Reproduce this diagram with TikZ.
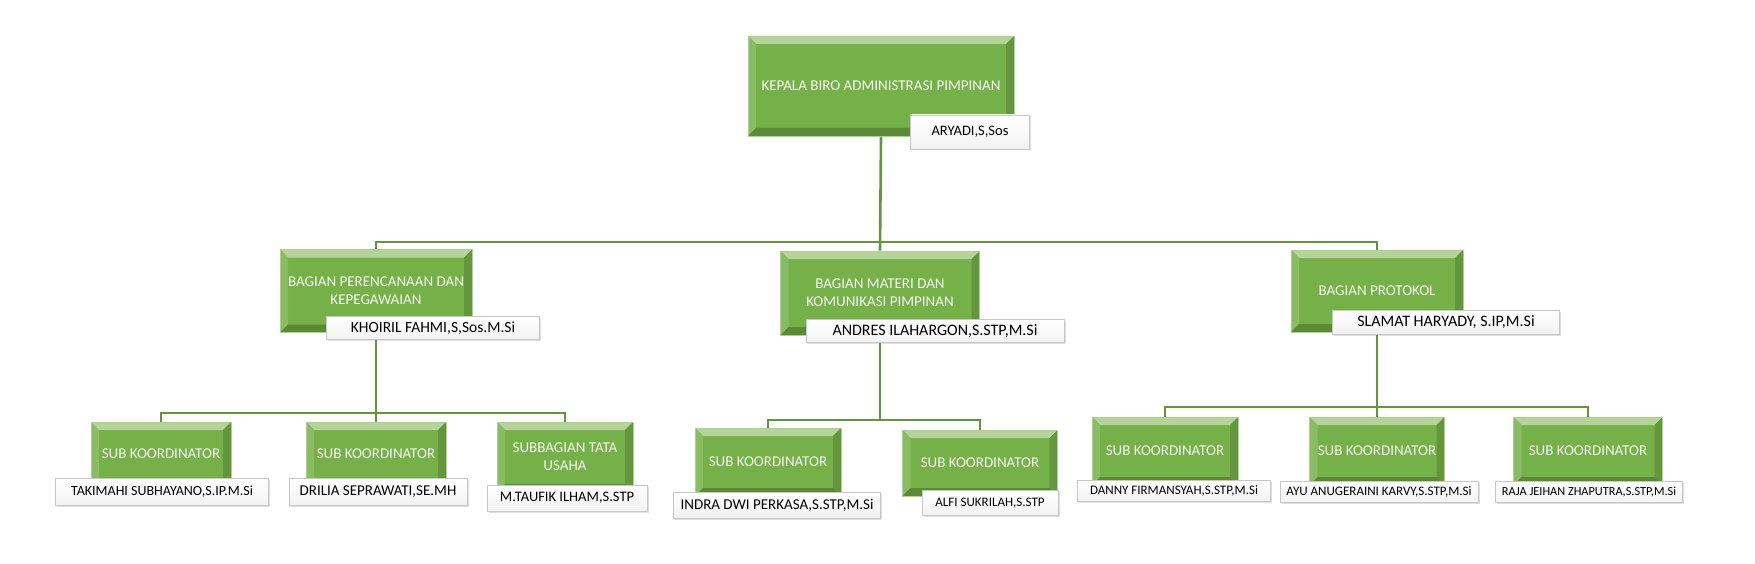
\documentclass[tikz,border=0pt]{standalone}
\usepackage{fontspec}
\setmainfont{Carlito}
\usetikzlibrary{shadows}
\definecolor{hijau}{RGB}{118,176,72}
\definecolor{garis}{RGB}{99,148,62}
\pgfdeclarelayer{bg}
\pgfsetlayers{bg,main}

\begin{document}
\begin{tikzpicture}[x=1pt,y=-1pt,
  unit/.style={rectangle,fill=hijau,draw=hijau!60!white,line width=0.8pt,inner sep=2pt,
    text=white!93!hijau,align=center,font=\fontsize{15}{18}\selectfont,
    path picture={
      \coordinate (a) at (path picture bounding box.north west);
      \coordinate (b) at (path picture bounding box.north east);
      \coordinate (c) at (path picture bounding box.south east);
      \coordinate (d) at (path picture bounding box.south west);
      \coordinate (ia) at ([shift={(8pt,-8pt)}]a);
      \coordinate (ib) at ([shift={(-8pt,-8pt)}]b);
      \coordinate (ic) at ([shift={(-8pt,8pt)}]c);
      \coordinate (id) at ([shift={(8pt,8pt)}]d);
      \fill[hijau!55!white] (a) -- (b) -- (ib) -- (ia) -- cycle;
      \fill[hijau!85!white] (a) -- (ia) -- (id) -- (d) -- cycle;
      \fill[hijau!85!black] (b) -- (ib) -- (ic) -- (c) -- cycle;
      \fill[hijau!78!black] (d) -- (id) -- (ic) -- (c) -- cycle;
    }},
  nama/.style={rectangle,draw=black!22,top color=white,bottom color=black!5,inner sep=1pt,text=black,
    drop shadow={shadow xshift=1.5pt,shadow yshift=-1.5pt,opacity=0.25}},
  hubung/.style={draw=garis,line width=2.6pt}]

\useasboundingbox (0,0) rectangle (1755,564);

% kotak jabatan
\foreach \nm/\teks/\x/\y/\w/\h in {kepala/{KEPALA BIRO ADMINISTRASI PIMPINAN}/881/86/266/100,
    bag1/{BAGIAN PERENCANAAN DAN\\KEPEGAWAIAN}/376/291/192/83,
    bag2/{BAGIAN MATERI DAN\\KOMUNIKASI PIMPINAN}/880/293/199/84,
    bag3/{BAGIAN PROTOKOL}/1377/291/172/82,
    sub1/{SUB KOORDINATOR}/161/454/140/64,
    sub2/{SUB KOORDINATOR}/376/454/140/64,
    sub3/{SUBBAGIAN TATA\\USAHA}/565/457/136/70,
    sub4/{SUB KOORDINATOR}/768/462/146/68,
    sub5/{SUB KOORDINATOR}/980/463/155/66,
    sub6/{SUB KOORDINATOR}/1165/451/146/68,
    sub7/{SUB KOORDINATOR}/1377/451/135/68,
    sub8/{SUB KOORDINATOR}/1588/451/149/68}
\node[unit,minimum width=\w pt,minimum height=\h pt] (\nm) at (\x,\y) {\teks};

% kotak nama pejabat
\foreach \nm/\teks/\x/\y/\w/\h/\fs in {n0/{ARYADI,S,Sos}/970/132/119/34/14.5,
    n1/{KHOIRIL FAHMI,S,Sos.M.Si}/433/328/213/23/15.5,
    n2/{ANDRES ILAHARGON,S.STP,M.Si}/935/331/258/23/16,
    n3/{SLAMAT HARYADY, S.IP,M.Si}/1446/322/227/24/16,
    n4/{TAKIMAHI SUBHAYANO,S.IP.M.Si}/162/492/213/27/14,
    n5/{DRILIA SEPRAWATI,SE.MH}/378/492/178/27/15,
    n6/{M.TAUFIK ILHAM,S.STP}/567/498/160/26/14.5,
    n7/{INDRA DWI PERKASA,S.STP,M.Si}/777/505/207/26/15,
    n8/{ALFI SUKRILAH,S.STP}/990/503/136/25/13,
    n9/{DANNY FIRMANSYAH,S.STP,M.Si}/1174/491/193/21/13,
    n10/{AYU ANUGERAINI KARVY,S.STP,M.Si}/1379/492/198/21/13,
    n11/{RAJA JEIHAN ZHAPUTRA,S.STP,M.Si}/1589/492/187/21/12.3}
\node[nama,minimum width=\w pt,minimum height=\h pt,font=\fontsize{\fs}{\fs}\selectfont] (\nm) at (\x,\y) {\teks};

\coordinate (cab0) at (0,242);
\coordinate (cab1) at (0,413);
\coordinate (cab2) at (0,420);
\coordinate (cab3) at (0,407);

\begin{pgfonlayer}{bg}
\fill[white] (0,0) rectangle (1755,564);
\draw[hubung] (kepala.south) -- (bag2.north);
\draw[hubung] (bag1.north) -- (bag1.north |- cab0) -| (bag3.north);
\draw[hubung] (bag1.south) -- (sub2.north);
\draw[hubung] (sub1.north) -- (sub1.north |- cab1) -| (sub3.north);
\draw[hubung] (bag2.south) -- (bag2.south |- cab2);
\draw[hubung] (sub4.north) -- (sub4.north |- cab2) -| (sub5.north);
\draw[hubung] (bag3.south) -- (sub7.north);
\draw[hubung] (sub6.north) -- (sub6.north |- cab3) -| (sub8.north);
\end{pgfonlayer}

\end{tikzpicture}
\end{document}
